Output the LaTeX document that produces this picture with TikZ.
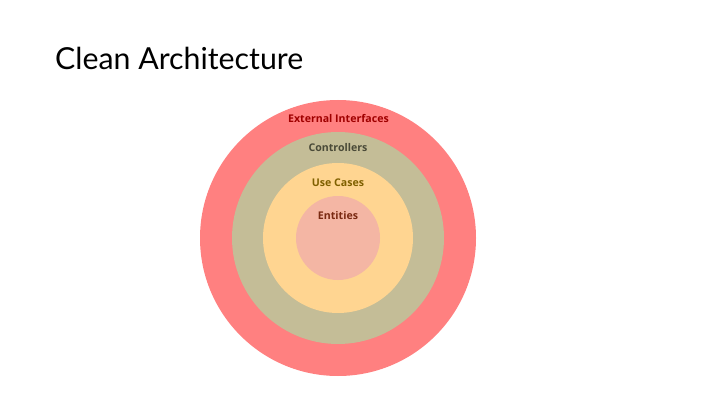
\documentclass[tikz,border=0pt]{standalone}
\usepackage{fontspec}
\setmainfont{Lato}
\newfontfamily\lblfont{Open Sans}
\definecolor{extc}{HTML}{FF8080}
\definecolor{ctlc}{HTML}{C4BD97}
\definecolor{usec}{HTML}{FFD591}
\definecolor{entc}{HTML}{F4B6A4}
\definecolor{extt}{HTML}{A00000}
\definecolor{ctlt}{HTML}{4A4A38}
\definecolor{uset}{HTML}{7F6000}
\definecolor{entt}{HTML}{7A2A12}
\tikzset{ring/.style={circle, draw=none, inner sep=0pt},
  lbl/.style={font=\lblfont\fontsize{10.6}{12}\selectfont\bfseries, inner sep=0pt}}
\begin{document}
\begin{tikzpicture}[x=1pt,y=1pt]
\useasboundingbox[fill=white] (0,0) rectangle (720,405);
\node[ring, fill=extc, minimum size=276pt] (ext) at (338,167) {};
\node[ring, fill=ctlc, minimum size=212pt] (ctl) at (338,167) {};
\node[ring, fill=usec, minimum size=150pt] (use) at (338,167) {};
\node[ring, fill=entc, minimum size=84pt] (ent) at (338,167) {};
\node[lbl, text=extt] (extl) at (338.5,287) {External Interfaces};
\node[lbl, text=ctlt] (ctll) at (338,257) {Controllers};
\node[lbl, text=uset] (usel) at (338,222) {Use Cases};
\node[lbl, text=entt] (entl) at (338,189) {Entities};
\node[anchor=base west, inner sep=0pt, font=\fontsize{30.3}{36}\selectfont] (title) at (55,335) {Clean Architecture};
\end{tikzpicture}
\end{document}
